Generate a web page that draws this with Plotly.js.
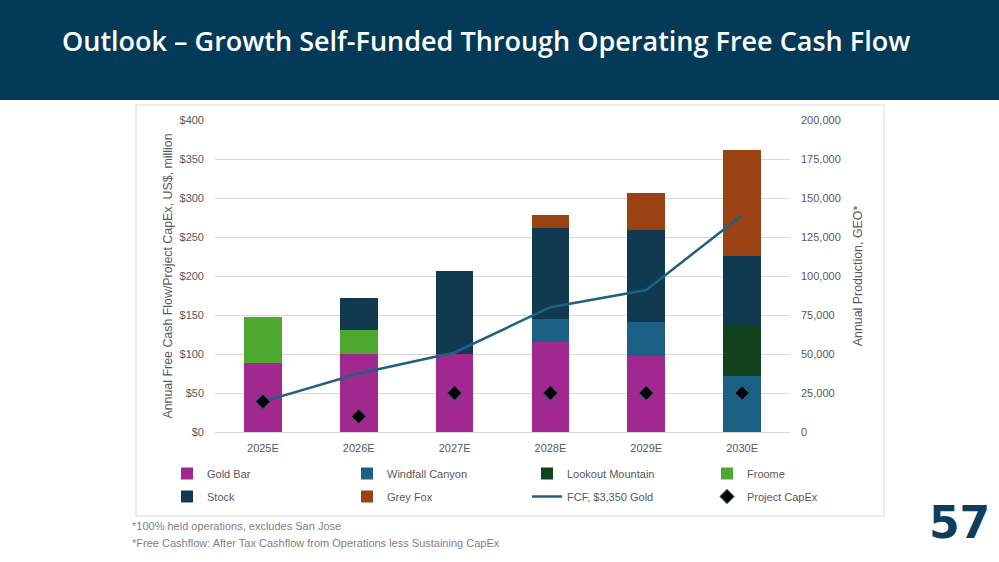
<!DOCTYPE html>
<html>
<head>
<meta charset="utf-8">
<script src="https://cdn.plot.ly/plotly-3.0.1.min.js"></script>
<style>html,body{margin:0;padding:0;background:#fff;}#chart{width:999px;height:562px;}</style>
</head>
<body>
<div id="chart"></div>
<script>
// ---- data ----
const years = ["2025E", "2026E", "2027E", "2028E", "2029E", "2030E"];
const goldBar = [44000, 50000, 50000, 58000, 49000, 0];
const windfallCanyon = [0, 0, 0, 14500, 21500, 35700];
const lookoutMountain = [0, 0, 0, 0, 0, 32100];
const froome = [30000, 15500, 0, 0, 0, 0];
const stock = [0, 20700, 53500, 58500, 59000, 44900];
const greyFox = [0, 0, 0, 8100, 23500, 67800];
const fcf = [39, 75, 102, 160, 182, 278];
const projectCapex = [39, 20, 50, 50, 50, 50];
const leftTicks = [0, 50, 100, 150, 200, 250, 300, 350, 400];
const rightTicks = [0, 25000, 50000, 75000, 100000, 125000, 150000, 175000, 200000];

// ---- layout helpers (pixel -> paper) ----
const W = 999, H = 562;
const mL = 215, mR = 209, mT = 120, mB = 130;
const pw = W - mL - mR, ph = H - mT - mB;
const px = x => (x - mL) / pw;
const py = y => (H - mB - y) / ph;

const tickFont = {family: "Liberation Sans, Arial, sans-serif", size: 11, color: "#595959"};
const legFont = {family: "Liberation Sans Narrow, Liberation Sans, Arial, sans-serif", size: 11, color: "#595959"};
const axTitleFont = {family: "Liberation Sans, Arial, sans-serif", size: 12.4, color: "#595959"};

function barTrace(name, vals, color, legend) {
  return {type: "bar", name: name, x: years, y: vals, yaxis: "y",
          marker: {color: color, line: {width: 0}}, legend: legend,
          hoverinfo: "name+y"};
}

const traces = [
  barTrace("Gold Bar", goldBar, "#A0288F", "legend"),
  barTrace("Windfall Canyon", windfallCanyon, "#1A6185", "legend"),
  barTrace("Lookout Mountain", lookoutMountain, "#12421B", "legend"),
  barTrace("Froome", froome, "#4EA72E", "legend"),
  barTrace("Stock", stock, "#0F3A4F", "legend2"),
  barTrace("Grey Fox", greyFox, "#9A4212", "legend2"),
  {type: "scatter", mode: "lines", name: "FCF, $3,350 Gold", x: years, y: fcf, yaxis: "y2",
   line: {color: "#1E6184", width: 2.5}, legend: "legend2"},
  {type: "scatter", mode: "markers", name: "Project CapEx", x: years, y: projectCapex, yaxis: "y2",
   marker: {symbol: "diamond", size: 11, color: "#000000", line: {color: "#1E6184", width: 1}}, legend: "legend2"}
];

const layout = {
  width: W, height: H,
  margin: {l: mL, r: mR, t: mT, b: mB, pad: 0},
  paper_bgcolor: "#ffffff", plot_bgcolor: "#ffffff",
  barmode: "stack", bargap: 0.607,
  showlegend: true,
  font: {family: "Liberation Sans, Arial, sans-serif", color: "#595959"},
  title: {text: "Outlook – Growth Self-Funded Through Operating Free Cash Flow",
          x: 62 / W, xanchor: "left", xref: "container",
          y: 1 - 42 / H, yanchor: "middle", yref: "container",
          font: {family: "Open Sans, sans-serif", size: 27, weight: 600, color: "#ffffff"}},
  xaxis: {type: "category", categoryorder: "array", categoryarray: years,
          showgrid: false, showline: true, linecolor: "#d9d9d9", linewidth: 1,
          ticks: "", tickfont: tickFont, ticklabelstandoff: 6, fixedrange: true},
  // production axis (right) carries the bars
  yaxis: {range: [0, 200000], tickvals: rightTicks, ticktext: rightTicks.map(v => v.toLocaleString("en-US")),
          side: "right", showgrid: true, gridcolor: "#d9d9d9", gridwidth: 1, zeroline: false,
          showline: false, ticks: "", tickfont: tickFont, ticklabelstandoff: 10,
          title: {text: "Annual Production, GEO*", font: axTitleFont, standoff: 13},
          automargin: false, fixedrange: true},
  // cash axis (left) carries the line and diamonds
  yaxis2: {range: [0, 400], tickvals: leftTicks, ticktext: leftTicks.map(v => "$" + v),
           overlaying: "y", side: "left", showgrid: false, zeroline: false, showline: false,
           ticks: "", tickfont: tickFont, ticklabelstandoff: 10,
           title: {text: "Annual Free Cash Flow/Project CapEx, US$, million", font: axTitleFont, standoff: 4},
           automargin: false, fixedrange: true},
  legend: {orientation: "h", x: px(167), xanchor: "left", y: py(459), yanchor: "top",
           entrywidth: 135, entrywidthmode: "pixels", font: legFont, traceorder: "normal",
           bgcolor: "rgba(0,0,0,0)", itemclick: false, itemdoubleclick: false},
  legend2: {orientation: "h", x: px(167), xanchor: "left", y: py(482), yanchor: "top",
            entrywidth: 135, entrywidthmode: "pixels", font: legFont, traceorder: "normal",
            bgcolor: "rgba(0,0,0,0)", itemclick: false, itemdoubleclick: false},
  shapes: [
    {type: "rect", xref: "paper", yref: "paper", x0: px(0), x1: px(W), y0: py(0), y1: py(100),
     fillcolor: "#023A58", line: {width: 0}, layer: "below"},
    {type: "rect", xref: "paper", yref: "paper", x0: px(136), x1: px(884), y0: py(105), y1: py(516),
     fillcolor: "rgba(0,0,0,0)", line: {color: "#d9d9d9", width: 1}, layer: "below"}
  ],
  annotations: [
    {text: "*100% held operations, excludes San Jose", xref: "paper", yref: "paper",
     x: px(130), y: py(526), xanchor: "left", yanchor: "middle", showarrow: false,
     font: {family: "Liberation Sans Narrow, Liberation Sans, Arial, sans-serif", size: 11, color: "#7f7f7f"}},
    {text: "*Free Cashflow: After Tax Cashflow from Operations less Sustaining CapEx", xref: "paper", yref: "paper",
     x: px(130), y: py(543), xanchor: "left", yanchor: "middle", showarrow: false,
     font: {family: "Liberation Sans Narrow, Liberation Sans, Arial, sans-serif", size: 11, color: "#7f7f7f"}},
    {text: "<b>57</b>", xref: "paper", yref: "paper",
     x: px(959), y: py(522), xanchor: "center", yanchor: "middle", showarrow: false,
     font: {family: "DejaVu Sans, sans-serif", size: 44, color: "#0F3D5C"}}
  ]
};

Plotly.newPlot("chart", traces, layout, {displayModeBar: false});
</script>
</body>
</html>
